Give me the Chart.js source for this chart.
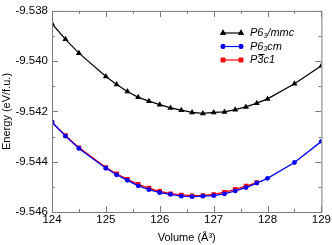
<!DOCTYPE html>
<html>
<head>
<meta charset="utf-8">
<script src="https://cdn.jsdelivr.net/npm/chart.js@4/dist/chart.umd.min.js"></script>
<style>
  html, body { margin: 0; padding: 0; background: #fff; }
  #wrap { width: 332px; height: 245px; }
</style>
</head>
<body>
<div id="wrap"><canvas id="c" width="332" height="245"></canvas></div>
<script>
const volumes = [124, 124.25, 124.5, 125, 125.2, 125.4, 125.6, 125.8, 126, 126.2, 126.4,
  126.6, 126.8, 127, 127.2, 127.4, 127.6, 127.8, 128, 128.5, 129]
const volumesP3c1 = volumes.slice(0, 18)

const energyP63mmc = [-9.53851, -9.53913, -9.53968, -9.54061, -9.54093, -9.54121, -9.54144,
  -9.54159, -9.54173, -9.54186, -9.54195, -9.54204, -9.54208, -9.54204, -9.54202, -9.54193,
  -9.54182, -9.54167, -9.54150, -9.54090, -9.54018]
const energyP63cm = [-9.54243, -9.54298, -9.54347, -9.54426, -9.54452, -9.54474, -9.54496,
  -9.54511, -9.54523, -9.54530, -9.54537, -9.54539, -9.54537, -9.54535, -9.54528, -9.54516,
  -9.54503, -9.54485, -9.54466, -9.54403, -9.54319]
const energyP3c1 = [-9.54243, -9.54296, -9.54344, -9.54423, -9.54448, -9.54470, -9.54490,
  -9.54505, -9.54518, -9.54527, -9.54532, -9.54535, -9.54534, -9.54530, -9.54521, -9.54510,
  -9.54497, -9.54483]

// label pieces: [text, 'n' normal | 's' subscript | 'o' overline]
const legendLabels = [
  [['P6', 'n'], ['3', 's'], ['/mmc', 'n']],
  [['P6', 'n'], ['3', 's'], ['cm', 'n']],
  [['P', 'n'], ['3', 'o'], ['c1', 'n']]
]

const xTicks = [124, 125, 126, 127, 128, 129]
const yTicks = [-9.546, -9.544, -9.542, -9.540, -9.538]

const toPoints = (xs, ys) => ys.map((y, i) => ({ x: xs[i], y }))

Chart.defaults.font.family = '"Liberation Sans", Arial, sans-serif'
Chart.defaults.font.size = 11
Chart.defaults.color = '#000'

const FRAME = '#7a7a7a'

// frame with inward ticks on all four sides (major 6px, minor 3px)
const framePlugin = {
  id: 'frame',
  afterDatasetsDraw(chart) {
    const { ctx, chartArea: a, scales } = chart
    ctx.save()
    ctx.strokeStyle = FRAME
    ctx.lineWidth = 1
    ctx.strokeRect(a.left + 0.5, a.top + 0.5, a.right - a.left, a.bottom - a.top)
    ctx.beginPath()
    for (let k = 0; k <= 10; k++) {
      const len = k % 2 === 0 ? 6 : 3
      const px = Math.round(scales.x.getPixelForValue(124 + k * 0.5)) + 0.5
      ctx.moveTo(px, a.bottom); ctx.lineTo(px, a.bottom - len)
      ctx.moveTo(px, a.top); ctx.lineTo(px, a.top + len)
    }
    for (let k = 0; k <= 8; k++) {
      const len = k % 2 === 0 ? 6 : 3
      const py = Math.round(scales.y.getPixelForValue(-9.546 + k * 0.001)) + 0.5
      ctx.moveTo(a.left, py); ctx.lineTo(a.left + len, py)
      ctx.moveTo(a.right, py); ctx.lineTo(a.right - len, py)
    }
    ctx.stroke()
    ctx.restore()
  }
}

const legendPlugin = {
  id: 'customLegend',
  afterDraw(chart) {
    const { ctx } = chart
    const rows = [33, 46.5, 60]
    const order = [2, 0, 1] // black, blue, red
    ctx.save()
    order.forEach((di, r) => {
      const ds = chart.data.datasets[di]
      const y = rows[r]
      ctx.strokeStyle = ds.borderColor
      ctx.lineWidth = 1.2
      ctx.beginPath(); ctx.moveTo(223, y); ctx.lineTo(241, y); ctx.stroke()
      ctx.fillStyle = ds.pointBackgroundColor
      ;[223, 241].forEach((px) => {
        Chart.helpers.drawPoint(ctx, { pointStyle: ds.pointStyle, radius: ds.pointRadius, rotation: 0 }, px, y)
        ctx.fill()
      })
      let x = 250
      ctx.fillStyle = '#000'
      ctx.textBaseline = 'middle'
      legendLabels[r].forEach(([txt, kind]) => {
        if (kind === 's') {
          ctx.font = 'italic 7px "Liberation Sans", Arial'
          ctx.fillText(txt, x, y + 3)
        } else {
          ctx.font = 'italic 11px "Liberation Sans", Arial'
          ctx.fillText(txt, x, y)
          if (kind === 'o') {
            const w = ctx.measureText(txt).width
            ctx.fillRect(x + 1, y - 6, w, 1)
          }
        }
        x += ctx.measureText(txt).width
      })
    })
    ctx.restore()
  }
}

new Chart(document.getElementById('c'), {
  type: 'line',
  data: {
    datasets: [
      {
        label: 'P6₃cm',
        data: toPoints(volumes, energyP63cm),
        borderColor: '#0000ff',
        backgroundColor: '#0000ff',
        pointBackgroundColor: '#0000ff',
        pointBorderWidth: 0,
        pointStyle: 'circle',
        pointRadius: 2.4,
        borderWidth: 1.3
      },
      {
        label: 'P3̄c1',
        data: toPoints(volumesP3c1, energyP3c1),
        borderColor: '#ff0000',
        backgroundColor: '#ff0000',
        pointBackgroundColor: '#ff0000',
        pointBorderWidth: 0,
        pointStyle: 'rect',
        pointRadius: 3.2,
        borderWidth: 1.3
      },
      {
        label: 'P6₃/mmc',
        data: toPoints(volumes, energyP63mmc),
        borderColor: '#000000',
        backgroundColor: '#000000',
        pointBackgroundColor: '#000000',
        pointBorderWidth: 0,
        pointStyle: 'triangle',
        pointRadius: 3.5,
        borderWidth: 1.2
      }
    ]
  },
  plugins: [framePlugin, legendPlugin],
  options: {
    responsive: false,
    animation: false,
    layout: { padding: { top: 4, right: 10, left: 0, bottom: 0 } },
    plugins: { legend: { display: false }, tooltip: { enabled: false } },
    scales: {
      x: {
        type: 'linear',
        min: 124,
        max: 129,
        grid: { display: false, drawTicks: false },
        border: { display: false },
        afterBuildTicks: (axis) => { axis.ticks = xTicks.map((value) => ({ value })) },
        ticks: { padding: 1, maxRotation: 0, font: { size: 11.5 } },
        title: { display: true, text: 'Volume (Å³)', padding: { top: 1, bottom: 0 }, font: { size: 11 } },
        afterFit: (s) => { s.height = 33 }
      },
      y: {
        type: 'linear',
        min: -9.546,
        max: -9.538,
        grid: { display: false, drawTicks: false },
        border: { display: false },
        afterBuildTicks: (axis) => { axis.ticks = yTicks.map((value) => ({ value })) },
        ticks: { padding: 4, font: { size: 11.5 }, callback: (v) => v.toFixed(3) },
        title: { display: true, text: 'Energy (eV/f.u.)', padding: { top: 0, bottom: 0 }, font: { size: 11 } },
        afterFit: (s) => { s.width = 52 }
      }
    }
  }
})
</script>
</body>
</html>
